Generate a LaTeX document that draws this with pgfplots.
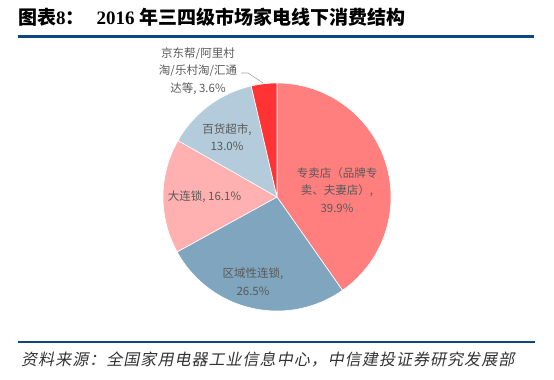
\documentclass[border=0pt]{standalone}
\usepackage{fontspec}
\usepackage{pgfplots}
\pgfplotsset{compat=1.18}
\setmainfont{Liberation Serif}
\newfontfamily\cjk{Noto Sans CJK SC}
\newfontfamily\cjkit{Noto Sans CJK SC}[FakeSlant=0.2,LetterSpace=6.5]
\definecolor{cA}{HTML}{FF7F7F}
\definecolor{cB}{HTML}{7FA6BE}
\definecolor{cC}{HTML}{FFB0B0}
\definecolor{cD}{HTML}{B3CBDA}
\definecolor{cE}{HTML}{FF3333}
\definecolor{navy}{HTML}{0D4683}
\definecolor{lbl}{HTML}{595959}
% values (percent), clockwise from 12 o'clock
\def\vA{39.9}% 专卖店
\def\vB{26.5}% 区域性连锁
\def\vC{16.1}% 大连锁
\def\vD{13.0}% 百货超市
\def\vE{3.6}%  京东帮等
\pgfmathsetmacro\tot{\vA+\vB+\vC+\vD+\vE}
\pgfmathsetmacro\aA{90-360*\vA/\tot}
\pgfmathsetmacro\aB{\aA-360*\vB/\tot}
\pgfmathsetmacro\aC{\aB-360*\vC/\tot}
\pgfmathsetmacro\aD{\aC-360*\vD/\tot}
\pgfmathsetmacro\aE{\aD-360*\vE/\tot}
\begin{document}
\begin{tikzpicture}[x=1pt,y=1pt]
\path[use as bounding box] (0,0) rectangle (554,380);
% title
\node[anchor=base west,inner sep=0] at (18,355) {\fontsize{19}{22}\selectfont\cjk\bfseries 图表\rmfamily\bfseries 8\cjk\bfseries ：};
\node[anchor=base west,inner sep=0] at (96.5,355) {\fontsize{19}{22}\selectfont\rmfamily\bfseries 2016 \cjk\bfseries 年三四级市场家电线下消费结构};
\draw[navy,line width=3pt] (18,343.3) -- (534,343.3);
% footer
\draw[navy,line width=2pt] (18,38.3) -- (535,38.3);
\node[anchor=base west,inner sep=0,text=black!80] at (21,14) {\fontsize{16}{18}\selectfont\cjkit 资料来源：全国家用电器工业信息中心，中信建投证券研究发展部};
\begin{axis}[at={(277pt,183pt)}, anchor=center, width=228pt, height=228pt,
  scale only axis, hide axis, xmin=-1, xmax=1, ymin=-1, ymax=1, clip=false]
\addplot[fill=cA, draw=white, line width=0.6pt, line join=round, domain=\aA:90, samples=90, variable=\t] ({cos(\t)},{sin(\t)}) -- (axis cs:0,0) -- cycle;
\addplot[fill=cB, draw=white, line width=0.6pt, line join=round, domain=\aB:\aA, samples=70, variable=\t] ({cos(\t)},{sin(\t)}) -- (axis cs:0,0) -- cycle;
\addplot[fill=cC, draw=white, line width=0.6pt, line join=round, domain=\aC:\aB, samples=50, variable=\t] ({cos(\t)},{sin(\t)}) -- (axis cs:0,0) -- cycle;
\addplot[fill=cD, draw=white, line width=0.6pt, line join=round, domain=\aD:\aC, samples=40, variable=\t] ({cos(\t)},{sin(\t)}) -- (axis cs:0,0) -- cycle;
\addplot[fill=cE, draw=white, line width=0.6pt, line join=round, domain=\aE:\aD, samples=15, variable=\t] ({cos(\t)},{sin(\t)}) -- (axis cs:0,0) -- cycle;
\end{axis}
% labels
\begin{scope}[every node/.style={align=center,inner sep=0,text=lbl,font=\cjk\fontsize{11.5}{17.5}\selectfont}]
\node at (198,309) {京东帮/阿里村\\淘/乐村淘/汇通\\达等, 3.6\%};
\node at (227,243) {百货超市,\\13.0\%};
\node at (337,190) {专卖店（品牌专\\卖、夫妻店）,\\39.9\%};
\node at (204.5,183) {大连锁, 16.1\%};
\node at (253,98.5) {区域性连锁,\\26.5\%};
\end{scope}
\draw[black!35,line width=0.6pt] (241,307) -- (248,307) -- (263,297);
\end{tikzpicture}
\end{document}
